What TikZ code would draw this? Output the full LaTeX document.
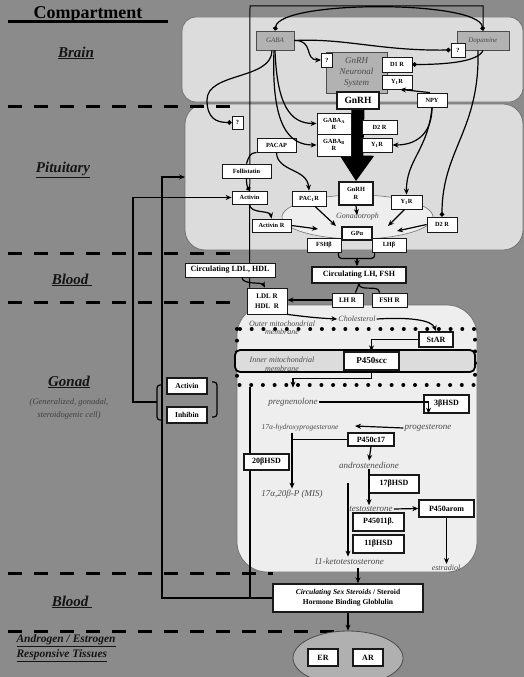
\documentclass[tikz,border=0pt]{standalone}
\usepackage{fontspec}
\setmainfont{Liberation Serif}
\usetikzlibrary{arrows.meta,shapes.geometric}

\definecolor{bggray}{HTML}{8B8B8B}
\definecolor{zonefill}{HTML}{DCDCDC}
\definecolor{cellfill}{HTML}{EEEEEE}
\definecolor{neurofill}{HTML}{B2B2B2}
\definecolor{tissuefill}{HTML}{B0B0B0}
\definecolor{inkgray}{HTML}{4A4A4A}

\pgfdeclarelayer{back}
\pgfsetlayers{back,main}

\begin{document}
\begin{tikzpicture}[
  x=1pt, y=-1pt,
  wh/.style 2 args={minimum width=#1pt, minimum height=#2pt},
  box/.style={draw=black!90, fill=white, line width=0.8pt, inner sep=0pt,
    align=center, font=\fontsize{6.3}{7}\selectfont\bfseries},
  hbox/.style={box, line width=1.4pt, font=\fontsize{8}{9}\selectfont\bfseries},
  nbox/.style={draw=black!70, fill=neurofill, line width=0.9pt, inner sep=0pt,
    align=center, text=inkgray, font=\fontsize{7}{8}\selectfont\itshape},
  mol/.style={text=inkgray, inner sep=1pt, align=center,
    font=\fontsize{9}{10}\selectfont\itshape},
  note/.style={mol, font=\fontsize{8}{8.5}\selectfont\itshape},
  zone/.style={text=black!92, font=\fontsize{15}{17}\selectfont\bfseries\itshape},
  zoneline/.style={line width=3pt, dash pattern=on 14pt off 12pt},
  link/.style={line width=1.2pt},
  arr/.style={link, -{Stealth[length=6pt,width=5pt]}},
  inh/.style={link, -{Circle[length=4.5pt]}},
  both/.style={link, {Circle[length=4.5pt]}-{Circle[length=4.5pt]}},
]
\useasboundingbox (0,0) rectangle (524,677);

% ============================================================
% COMPARTMENT LABELS
% ============================================================
\node[font=\fontsize{18}{20}\selectfont\bfseries, anchor=base, inner sep=0pt]
  (ttl) at (88,19) {Compartment};
\draw[line width=3pt] (8,22) -- (168,22);

\node[zone] (lbrain) at (76,53) {\underline{Brain}};
\node[zone] (lpit) at (63,170) {\underline{Pituitary}};
\node[zone] (lblood) at (72,280) {\underline{Blood\ }};
\node[zone] (lgonad) at (69,382) {\underline{Gonad}};
\node[note, text=black!75, font=\fontsize{8.5}{13}\selectfont\itshape]
  (lgonsub) at (69,408.5) {(Generalized, gonadal,\\steroidogenic cell)};
\node[zone] (lblood2) at (72,602) {\underline{Blood\ }};
\node[zone, font=\fontsize{11.5}{15}\selectfont\bfseries\itshape, anchor=west, align=left]
  (ltissue) at (13,648.5) {\underline{Androgen / Estrogen}\\\underline{Responsive Tissues}};

% ============================================================
% BRAIN
% ============================================================
\node[nbox, wh={38}{19}] (gaba) at (275,40.5) {GABA};
\node[nbox, wh={52}{19}] (dopa) at (483,40.5) {Dopamine};
\node[box, wh={14}{14}] (qdopa) at (458,50) {?};
\node[nbox, wh={61}{41}, font=\fontsize{9}{11}\selectfont\itshape]
  (gnrhsys) at (356.5,72.5) {GnRH\\Neuronal\\System};
\node[box, wh={11}{14}] (qgnrh) at (327,60) {?};
\node[box, wh={30}{15}] (d1r) at (397,64.5) {D1 R};
\node[box, wh={30}{14}] (y1rb) at (397,82) {Y\textsubscript{1}R};
\node[box, wh={30}{14}] (npy) at (432,100) {NPY};
\node[hbox, wh={42}{17}, font=\fontsize{9.5}{10}\selectfont\bfseries]
  (gnrh) at (358,100.5) {GnRH};

% ============================================================
% PITUITARY
% ============================================================
\node[ellipse, draw=black!55, fill=cellfill, line width=0.6pt, wh={151}{44},
  text=inkgray, font=\fontsize{8}{9}\selectfont\itshape, inner sep=0pt]
  (gonado) at (357.5,217) {Gonadotroph};
\node[box, wh={11}{13}] (qpit) at (237.5,122.5) {?};
\node[box, wh={34}{21}] (gabaar) at (334,123.5) {GABA\textsubscript{A}\\R};
\node[box, wh={34}{22}] (gababr) at (334,145) {GABA\textsubscript{B}\\R};
\node[box, wh={35}{14}] (d2rtop) at (379.5,127) {D2 R};
\node[box, wh={30}{14}] (y1rtop) at (377,145) {Y\textsubscript{1}R};
\node[box, wh={39}{14}] (pacap) at (276.5,145) {PACAP};
\node[box, wh={49}{14}] (follist) at (246.5,171) {Follistatin};
\node[box, wh={35}{13}] (activinp) at (249.5,197.5) {Activin};
\node[box, wh={34}{15}] (pac1r) at (309,198.5) {PAC\textsubscript{1}R};
\node[hbox, wh={34}{23}, font=\fontsize{6.3}{8}\selectfont\bfseries]
  (gnrhr) at (356,193.5) {GnRH\\R};
\node[box, wh={31}{14}] (y1rlow) at (406.5,202) {Y\textsubscript{1}R};
\node[box, wh={30}{15}] (d2rlow) at (442,224.5) {D2 R};
\node[box, wh={39}{13}] (activinr) at (271.5,225.5) {Activin R};
\node[hbox, wh={30}{13}, font=\fontsize{6.3}{7}\selectfont\bfseries]
  (gpa) at (357,233.5) {GPα};
\node[box, wh={34}{14}] (fshb) at (324,245) {FSHβ};
\node[box, wh={34}{14}] (lhb) at (389,245) {LHβ};

\coordinate (gA) at (318,229);
\coordinate (gB) at (336,226);
\coordinate (gC) at (357,215);
\coordinate (gD) at (388,226);
\coordinate (gE) at (397,231);
\coordinate (pitin) at (185,177);

% ============================================================
% BLOOD
% ============================================================
\node[box, wh={90}{14}, font=\fontsize{8}{9}\selectfont\bfseries]
  (circldl) at (230,270) {Circulating LDL, HDL};
\node[hbox, wh={94}{16}] (circlh) at (359,275) {Circulating LH, FSH};
\node[box, wh={31}{14}, font=\fontsize{7}{8}\selectfont\bfseries] (lhr) at (347.5,300) {LH R};
\node[box, wh={35}{14}, font=\fontsize{7}{8}\selectfont\bfseries] (fshr) at (389.5,300) {FSH R};
\node[box, wh={40}{26}, font=\fontsize{7}{10}\selectfont\bfseries]
  (ldlr) at (267,301) {LDL R\\HDL\ \ R};

% ============================================================
% GONAD
% ============================================================
\node[note] (outmem) at (282,328) {Outer mitochondrial\\membrane};
\node[note] (chol) at (357,319) {Cholesterol};
\node[hbox, wh={34}{15}] (star) at (436,339.5) {StAR};
\node[note] (inmem) at (282,364.5) {Inner mitochondrial\\membrane};
\node[hbox, wh={55}{18}, font=\fontsize{9}{10}\selectfont\bfseries]
  (p450scc) at (371.5,361) {P450scc};
\node[mol] (preg) at (293,402) {pregnenolone};
\node[hbox, wh={45}{18}] (hsd3b) at (446.5,404) {3βHSD};
\node[mol] (prog) at (428,428) {progesterone};
\node[mol, font=\fontsize{7.5}{9}\selectfont\itshape] (ohp) at (300,428) {17α-hydroxyprogesterone};
\node[hbox, wh={46}{13}] (p450c17) at (371,439.5) {P450c17};
\node[hbox, wh={45}{16}] (hsd20b) at (266.5,462) {20βHSD};
\node[mol] (andro) at (369,465) {androstenedione};
\node[hbox, wh={50}{18}] (hsd17b) at (394,484) {17βHSD};
\node[mol] (mis) at (292,494) {17α,20β-P (MIS)};
\node[mol] (testo) at (371,509) {testosterone};
\node[hbox, wh={55}{17}] (p450arom) at (446.5,508.5) {P450arom};
\node[hbox, wh={51}{18}] (p45011b) at (378.5,522) {P45011β.};
\node[hbox, wh={51}{18}] (hsd11b) at (378.5,544) {11βHSD};
\node[mol] (kt) at (349,561) {11-ketotestosterone};
\node[mol, font=\fontsize{8}{9}\selectfont\itshape] (e2) at (446,568) {estradiol};

\node[hbox, wh={40}{16}, font=\fontsize{7.5}{8}\selectfont\bfseries] (activing) at (187,386) {Activin};
\node[hbox, wh={40}{16}, font=\fontsize{7.5}{8}\selectfont\bfseries] (inhibin) at (187,415) {Inhibin};
\draw[link, rounded corners=3pt] (162,385) -- (157,385) -- (157,420) -- (162,420);
\draw[link, rounded corners=3pt] (212,382) -- (217,382) -- (217,417) -- (212,417);
\coordinate (brL) at (157,402);
\coordinate (brX) at (133,402);

\coordinate (prevcell) at (355,426);
\coordinate (ktline) at (348,483);
\coordinate (cellout) at (358,568);
\coordinate (hormjoin) at (357,258);

% ============================================================
% BLOOD / RESPONSIVE TISSUES
% ============================================================
\node[hbox, wh={150}{28}, font=\fontsize{7.5}{10}\selectfont\bfseries]
  (circsex) at (348,598) {\textit{Circulating Sex Steroids} / Steroid\\Hormone Binding Globlulin};
\node[ellipse, draw=black!70, fill=tissuefill, line width=0.8pt, wh={110}{54}]
  (tissue) at (348,658) {};
\node[hbox, wh={30}{17}] (er) at (323,657.5) {ER};
\node[hbox, wh={30}{17}] (ar) at (368,657.5) {AR};

% ============================================================
% CONNECTORS
% ============================================================
% brain
\draw[both] (gaba.north) .. controls (280,0) and (478,0) .. (dopa.north);
\draw[inh] (gaba.east) .. controls (345,38) and (380,51) .. (qdopa.west);
\draw[arr] (gaba.east) .. controls (314,40) and (304,60) .. (qgnrh.west);
\draw[inh] (dopa.south) .. controls (478,62) and (445,64.5) .. (d1r.east);
\draw[arr] ([xshift=-2pt]npy.north) -- ([xshift=3pt]y1rb.south);
% brain -> pituitary
\draw[inh] ([xshift=-5pt]dopa.south) .. controls (480,130) and (442,150) .. (d2rlow.north);
\draw[inh] ([xshift=-3pt]gaba.south) .. controls (272,80) and (207,72) .. (207,100)
  .. controls (207,118) and (216,122.5) .. (qpit.west);
\draw[arr] (gaba.south) .. controls (277,105) and (290,123.5) .. (gabaar.west);
\draw[arr] ([xshift=-1pt]gaba.south) .. controls (271,128) and (290,145) .. (gababr.west);
\draw[arr] (npy.south) .. controls (432,130) and (420,145) .. (y1rtop.east);
\draw[arr] (npy.south) .. controls (428,150) and (406,160) .. (y1rlow.north);
% pituitary
\draw[arr] (pacap.south) .. controls (277,172) and (307,168) .. (pac1r.north);
\draw[link] (pacap.south west) .. controls (250,153) and (249,156) .. (follist.north);
\draw[inh] (follist.south) to[bend right=15] (activinp.north);
\draw[arr] (activinp.south) .. controls (250,214) and (270,210) .. (activinr.north);
\draw[arr] (activinr.east) -- (gA);
\draw[arr] ([xshift=6pt]pac1r.south) -- (gB);
\draw[arr] (gnrhr.south) -- (gC);
\draw[arr] ([xshift=-2pt]y1rlow.south) -- (gD);
\draw[arr] (d2rlow.west) -- (gE);
\draw[link, rounded corners=3pt] ([xshift=-3pt]fshb.south east) -- ++(0,6)
  -| ([xshift=3pt]lhb.south west);
\draw[arr] (hormjoin) -- (hormjoin |- circlh.north);
% blood
\draw[link] (circlh.south) to[out=-90,in=90] ([xshift=8pt]lhr.north);
\draw[link] (circlh.south) to[out=-90,in=90] ([xshift=-10pt]fshr.north);
\draw[arr] (lhr.west) -- (lhr.west -| ldlr.east);
\draw[arr] ([xshift=12pt]circldl.south) .. controls (242,285) and (262,282) .. ([xshift=-2pt]ldlr.north);
% gonad
\draw[arr] (ldlr.south east) .. controls (300,316) and (315,318) .. (chol.west);
\draw[arr] (chol.east) .. controls (410,317) and (432,320) .. (star.north);
\draw[arr] (star.west) -| (p450scc.north);
\draw[arr, shorten >=9pt] (p450scc.south) -- ++(0,8) -| (preg.north);
\draw[arr] (preg.east) -| ([xshift=-18pt]hsd3b.south);
\draw[arr] (prog.west) -- (prevcell);
\draw[arr] (ohp.south -| mis.north) -- (mis.north);
\draw[link] (p450c17.west -| mis.north) -- (p450c17.west);
\draw[arr] (p450c17.south) -- (andro.north);
\draw[arr] (andro.south) -- (andro.south |- testo.north);
\draw[arr] (ktline) -- (ktline |- kt.north);
\draw[arr] (testo.east) -- (p450arom.west);
\draw[arr] (p450arom.south) -- (p450arom.south |- e2.north);
% feedback
\draw[arr] (cellout) -- (cellout |- circsex.north);
\draw[arr] (circsex.south) -- (tissue.north);
\draw[arr] (circsex.west) -| (162,177) -- (pitin);
\draw[arr] (brL) -- (brX) |- (activinp.west);

% ============================================================
% BACKGROUND LAYER
% ============================================================
\begin{pgfonlayer}{back}
\fill[bggray] (0,0) rectangle (524,677);
\draw[draw=black!55, fill=zonefill, line width=0.8pt, rounded corners=14pt]
  (182,17) rectangle (523,102);
\draw[draw=black!55, fill=zonefill, line width=0.8pt, rounded corners=20pt]
  (185,104) rectangle (523,250);
\draw[draw=black!55, fill=cellfill, line width=0.8pt, rounded corners=30pt]
  (237,305) rectangle (477,572);
% mitochondrion
\draw[line width=4pt, line cap=round, dash pattern=on 0pt off 11.7pt]
  (237,329) rectangle (475,385);
\draw[line width=1.8pt, fill=zonefill, rounded corners=5pt]
  (235,350) rectangle (475,372);
% compartment borders
\draw[zoneline] (8,106) -- (240,106);
\draw[zoneline] (8,253) -- (236,253);
\draw[zoneline] (8,302) -- (242,302);
\draw[zoneline] (8,573) -- (273,573);
\draw[zoneline] (8,631) -- (346,631);
% outer frame line
\draw[line width=1pt] (dopa.north) |- (250,6) -- ([xshift=3pt]ldlr.north west);
% GnRH release
\draw[line width=13pt, -{Triangle[length=26pt,width=33pt]}] (gnrh.south) -- (gnrhr.north);
% steroid exit line
\draw[link] (250,387) -- (250,598);
\end{pgfonlayer}

\end{tikzpicture}
\end{document}
